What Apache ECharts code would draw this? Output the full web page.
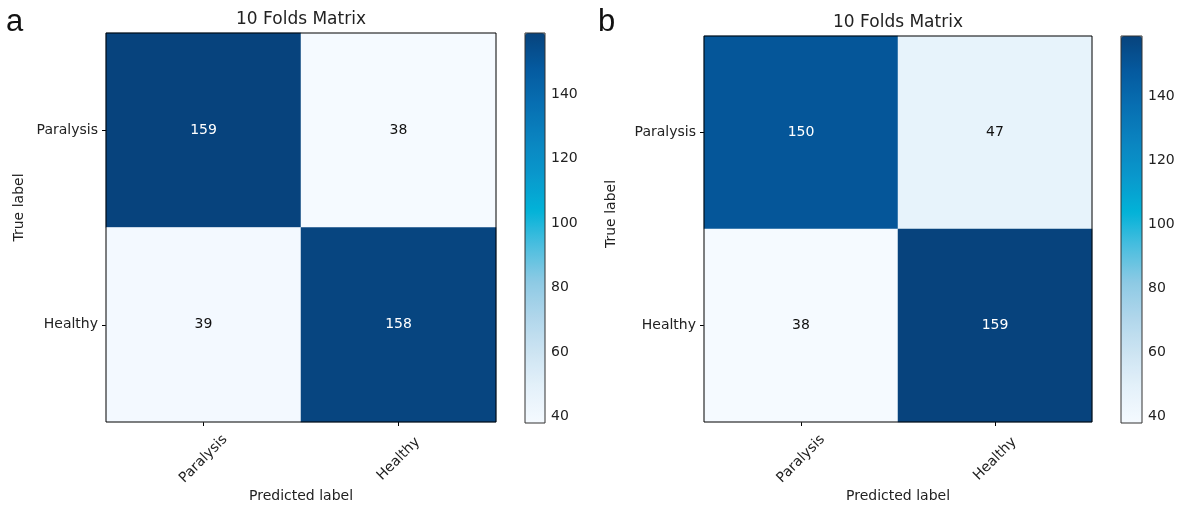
<!DOCTYPE html>
<html>
<head>
<meta charset="utf-8">
<script src="https://cdn.jsdelivr.net/npm/echarts@6/dist/echarts.min.js"></script>
<style>
  html, body { margin: 0; padding: 0; background: #fff; }
  #chart { width: 1180px; height: 508px; }
</style>
</head>
<body>
<div id="chart"></div>
<script>
// Class names on both axes
const classes = ['Paralysis', 'Healthy'];

// Confusion counts, rows = true label, columns = predicted label
const matrixA = [
  [159, 38],
  [39, 158]
];
const matrixB = [
  [150, 47],
  [38, 159]
];

// Colour scale range and colourbar ticks
const scaleMin = 38;
const scaleMax = 159;
const colorbarTicks = [40, 60, 80, 100, 120, 140];

// Colour ramp, light to dark through cyan
const ramp = ['#f5faff', '#e4f1fa', '#cde4f2', '#b0d6eb', '#8dcae4', '#4bbedf',
              '#02b2d8', '#0998cc', '#0a84c0', '#076fb2', '#055a9f', '#07437d'];

const FONT = 'DejaVu Sans';
const TXT = '#222';

function cells(matrix) {
  const mid = (scaleMin + scaleMax) / 2;
  const out = [];
  matrix.forEach((row, r) => {
    row.forEach((v, c) => {
      out.push({
        value: [c, r, v],
        label: { color: v > mid ? '#ffffff' : '#111111' }
      });
    });
  });
  return out;
}

// Panel geometry: heatmap box and colourbar box
const panels = [
  { box: { left: 106, top: 33, width: 390, height: 390 },
    bar: { left: 525, top: 33, width: 20, height: 390 },
    data: matrixA, letter: 'a', letterX: 6, yNameGap: 80, yNameShift: 40 },
  { box: { left: 704, top: 36, width: 388, height: 387 },
    bar: { left: 1121, top: 36, width: 21, height: 387 },
    data: matrixB, letter: 'b', letterX: 598, yNameGap: 86, yNameShift: 30 }
];

const grid = [], xAxis = [], yAxis = [], series = [], visualMap = [], title = [];

panels.forEach((p, i) => {
  // heatmap grid
  grid.push(Object.assign({ show: true, z: 5, backgroundColor: 'transparent',
    borderColor: '#000', borderWidth: 1, containLabel: false }, p.box));
  // colourbar grid
  grid.push(Object.assign({ show: true, z: 5, backgroundColor: 'transparent',
    borderColor: '#333', borderWidth: 1, containLabel: false }, p.bar));

  const g = i * 2;
  xAxis.push({
    gridIndex: g, type: 'category', data: classes, position: 'bottom',
    axisLine: { show: false },
    axisTick: { show: true, alignWithLabel: true, length: 4, lineStyle: { color: '#000' } },
    axisLabel: { rotate: 45, align: 'center', verticalAlign: 'middle', margin: 37,
      fontFamily: FONT, fontSize: 14, color: TXT },
    name: 'Predicted label', nameLocation: 'middle', nameGap: 67, nameMoveOverlap: false,
    nameTextStyle: { fontFamily: FONT, fontSize: 14, color: TXT, verticalAlign: 'top' },
    splitLine: { show: false }
  });
  yAxis.push({
    gridIndex: g, type: 'category', data: classes, inverse: true, position: 'left',
    axisLine: { show: false },
    axisTick: { show: true, alignWithLabel: true, length: 4, lineStyle: { color: '#000' } },
    axisLabel: { margin: 8, fontFamily: FONT, fontSize: 14, color: TXT },
    name: 'True label', nameLocation: 'middle', nameGap: p.yNameGap, nameRotate: 90,
    nameMoveOverlap: false,
    nameTextStyle: { fontFamily: FONT, fontSize: 14, color: TXT, padding: [0, 0, 0, p.yNameShift] },
    splitLine: { show: false }
  });
  // colourbar axes
  xAxis.push({ gridIndex: g + 1, type: 'value', show: false, min: 0, max: 1 });
  yAxis.push({
    gridIndex: g + 1, type: 'value', position: 'right', min: scaleMin, max: scaleMax,
    axisLine: { show: false },
    axisTick: { show: true, length: 4, customValues: colorbarTicks, lineStyle: { color: '#333' } },
    axisLabel: { margin: 6, customValues: colorbarTicks, fontFamily: FONT, fontSize: 14, color: TXT },
    splitLine: { show: false }
  });

  series.push({
    type: 'heatmap', xAxisIndex: g, yAxisIndex: g,
    data: cells(p.data),
    label: { show: true, fontFamily: FONT, fontSize: 14 },
    itemStyle: { borderWidth: 0 },
    emphasis: { disabled: true }
  });

  visualMap.push({
    type: 'continuous', seriesIndex: i, dimension: 2,
    min: scaleMin, max: scaleMax, calculable: false, realtime: false,
    left: p.bar.left, top: p.bar.top, itemWidth: p.bar.width, itemHeight: p.bar.height,
    padding: 0, text: null, showLabel: false, hoverLink: false,
    inRange: { color: ramp }
  });

  title.push({
    text: '10 Folds Matrix', left: p.box.left + p.box.width / 2, top: p.box.top - 22,
    textAlign: 'center', padding: 0,
    textStyle: { fontFamily: FONT, fontSize: 17, fontWeight: 'normal', color: TXT }
  });
  title.push({
    text: p.letter, left: p.letterX, top: 7, padding: 0,
    textStyle: { fontFamily: 'Liberation Sans', fontSize: 31, fontWeight: 'normal', color: '#111' }
  });
});

const chart = echarts.init(document.getElementById('chart'), null, { renderer: 'canvas' });
chart.setOption({
  backgroundColor: '#ffffff',
  animation: false,
  title, grid, xAxis, yAxis, visualMap, series
});
</script>
</body>
</html>
